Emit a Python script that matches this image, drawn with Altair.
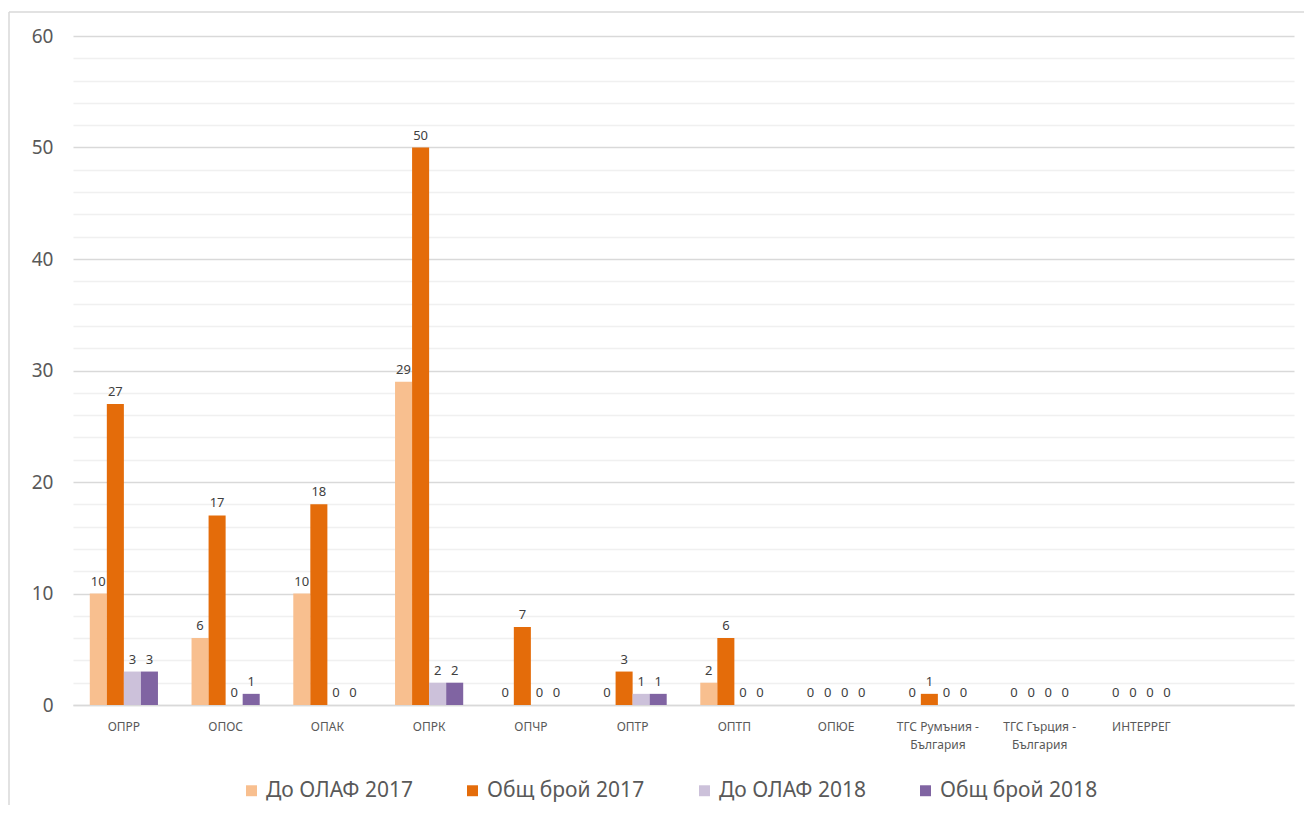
import altair as alt
import pandas as pd

categories = ["ОПРР", "ОПОС", "ОПАК", "ОПРК", "ОПЧР", "ОПТР", "ОПТП", "ОПЮЕ",
              "ТГС Румъния  -|България", "ТГС Гърция -|България", "ИНТЕРРЕГ"]
series = ["До ОЛАФ 2017", "Общ брой 2017", "До ОЛАФ 2018", "Общ брой 2018"]
do_olaf_2017 = [10, 6, 10, 29, 0, 0, 2, 0, 0, 0, 0]
obsht_2017 = [27, 17, 18, 50, 7, 3, 6, 0, 1, 0, 0]
do_olaf_2018 = [3, 0, 0, 2, 0, 1, 0, 0, 0, 0, 0]
obsht_2018 = [3, 1, 0, 2, 0, 1, 0, 0, 0, 0, 0]
colors = ["#F8BF8F", "#E46C0A", "#CCC1DA", "#8064A2"]

rows = []
for s, vals in zip(series, [do_olaf_2017, obsht_2017, do_olaf_2018, obsht_2018]):
    for c, v in zip(categories, vals):
        rows.append({"cat": c, "series": s, "value": v})
df = pd.DataFrame(rows)

FONT = "Noto Sans"

x_enc = alt.X(
    "cat:N",
    sort=categories,
    scale=alt.Scale(domain=categories + [""], paddingInner=0.33, paddingOuter=0.165),
    axis=alt.Axis(
        title=None, labelAngle=0, ticks=False,
        labelExpr="split(datum.label, '|')",
        labelFontSize=12, labelColor="#595959", labelPadding=16,
        labelLineHeight=18,
        domainColor="#D9D9D9", domainWidth=1.5, grid=False,
    ),
)
xoff = alt.XOffset("series:N", sort=series, scale=alt.Scale(domain=series, paddingInner=0, paddingOuter=0))
y_enc = alt.Y(
    "value:Q",
    scale=alt.Scale(domain=[0, 60], nice=False),
    axis=alt.Axis(
        title=None, values=list(range(0, 61, 2)),
        labelExpr="datum.value % 10 === 0 ? datum.label : ''",
        domain=False, ticks=False, labelFontSize=19, labelColor="#595959",
        labelPadding=20,
        gridColor={"condition": {"test": "datum.value % 10 === 0", "value": "#D9D9D9"}, "value": "#F0F0F0"},
        gridWidth=1.4,
    ),
)

bars = alt.Chart(df).mark_bar().encode(
    x=x_enc, xOffset=xoff, y=y_enc,
    color=alt.Color(
        "series:N", sort=series,
        scale=alt.Scale(domain=series, range=colors),
        legend=alt.Legend(
            title=None, orient="none", direction="horizontal",
            legendX=168, legendY=744,
            symbolType="square", symbolSize=120, symbolStrokeWidth=0,
            labelFontSize=21, labelColor="#595959", columnPadding=49,
            labelLimit=400, labelOffset=4,
        ),
    ),
)

labels = alt.Chart(df).mark_text(baseline="bottom", dy=-5, fontSize=13, color="#404040").encode(
    x=x_enc, xOffset=xoff, y=y_enc, text="value:Q",
)

frame_df = pd.DataFrame({"k": [1]})
frame_left = alt.Chart(frame_df).mark_rule(stroke="#D9D9D9", strokeWidth=1.5).encode(
    x=alt.value(-64), y=alt.value(-24), y2=alt.value(800),
)
frame_top = alt.Chart(frame_df).mark_rule(stroke="#D9D9D9", strokeWidth=1.5).encode(
    x=alt.value(-64), x2=alt.value(1300), y=alt.value(-24),
)

chart = alt.layer(frame_left, frame_top, bars, labels).properties(
    width=1221, height=669,
    autosize=alt.AutoSizeParams(type="none"),
    padding={"left": 65, "top": 28, "right": 10, "bottom": 100},
).configure(font=FONT).configure_view(stroke=None)

chart.save("out.html", embed_options={"renderer": "svg", "actions": False})
